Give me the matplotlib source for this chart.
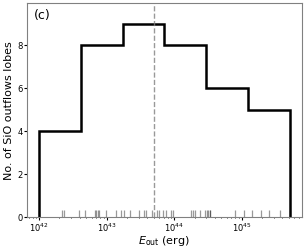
import matplotlib
matplotlib.use("Agg")
import matplotlib.pyplot as plt
import numpy as np

# log10 of outflow energies (erg)
log_eout = np.array([
    42.000, 42.336, 42.363, 42.597,
    42.686, 42.822, 42.844, 42.867, 42.889, 42.988, 43.141, 43.207,
    43.264, 43.348, 43.481, 43.560, 43.588, 43.674, 43.741, 43.778, 43.837,
    43.877, 43.948, 43.978, 44.252, 44.277, 44.311, 44.385, 44.452,
    44.481, 44.504, 44.526, 44.536, 44.904, 45.027,
    45.156, 45.281, 45.400, 45.570, 45.708,
])
n_bins = 6
log_ref_line = 43.70
panel_label = "(c)"

fig = plt.figure(figsize=(3.06, 2.48), dpi=100)
ax = fig.add_axes([0.087, 0.124, 0.900, 0.862])

edges = np.histogram_bin_edges(log_eout, bins=n_bins)
eout = 10 ** log_eout
ax.hist(eout, bins=10 ** edges, histtype="step", color="k", lw=1.8)

# rug
ax.vlines(eout, 0, 0.033, transform=ax.get_xaxis_transform(),
          color="k", alpha=0.4, lw=0.9)

ax.axvline(10 ** log_ref_line, color="gray", ls="--", lw=1, alpha=0.8)

ax.set_xscale("log")
ax.set_ylim(0, 9.95)
ax.set_yticks([0, 2, 4, 6, 8])
ax.tick_params(labelsize=6, length=2, pad=1)
ax.tick_params(which="minor", length=1)
ax.set_xlabel(r"$E_{\rm out}$ (erg)", fontsize=8, labelpad=0)
ax.set_ylabel("No. of SiO outflows lobes", fontsize=8, labelpad=2.5)
ax.text(0.025, 0.975, panel_label, transform=ax.transAxes,
        fontsize=9, va="top", ha="left")
for s in ax.spines.values():
    s.set_color("0.5")

fig.savefig("out.png", dpi=100)
